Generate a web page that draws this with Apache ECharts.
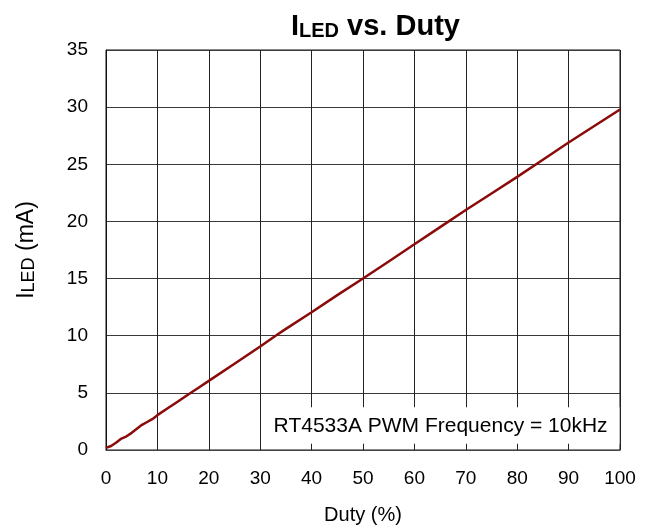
<!DOCTYPE html>
<html>
<head>
<meta charset="utf-8">
<script src="https://cdn.jsdelivr.net/npm/echarts@6/dist/echarts.min.js"></script>
<style>
html,body{margin:0;padding:0;background:#fff;}
#c{width:655px;height:531px;}
</style>
</head>
<body>
<div id="c"></div>
<script>
// Data
const duty = [0,1,2,3,4,5,6,7,8,9,10,12,14,16,18,20,25,30,33,35,40,45,50,55,60,65,70,75,80,85,90,95,100];
const iled = [0.2,0.35,0.65,1.0,1.2,1.5,1.85,2.2,2.45,2.7,3.05,3.65,4.25,4.85,5.45,6.05,7.55,9.05,10.0,10.6,12.05,13.55,15.0,16.5,18.0,19.5,21.0,22.45,23.9,25.4,26.9,28.35,29.8];
const xTicks = {min:0, max:100, interval:10};
const yTicks = {min:0, max:35, interval:5};
const noteText = 'RT4533A PWM Frequency = 10kHz';

const FONT = '"Liberation Sans", Arial, sans-serif';
const chart = echarts.init(document.getElementById('c'), null, {renderer:'canvas'});

const lineData = duty.map((d,i)=>[d, iled[i]]);

const option = {
  animation:false,
  backgroundColor:'#fff',
  title:{
    text:'{m|I}{s|LED}{m| vs. Duty}',
    left:286, top:3,
    textStyle:{
      rich:{
        m:{fontSize:29, fontWeight:'bold', fontFamily:FONT, color:'#000', lineHeight:33, verticalAlign:'bottom'},
        s:{fontSize:20, fontWeight:'bold', fontFamily:FONT, color:'#000', lineHeight:33, verticalAlign:'bottom', padding:[8,0,0,0]}
      }
    }
  },
  grid:{left:106, right:35, top:50, bottom:81, show:true, borderColor:'#111', borderWidth:1},
  xAxis:[{
    type:'value', min:xTicks.min, max:xTicks.max, interval:xTicks.interval,
    position:'bottom',
    axisLine:{show:true, lineStyle:{color:'#444', width:1}},
    axisTick:{show:false},
    axisLabel:{fontSize:19, fontFamily:FONT, color:'#000', margin:19},
    splitLine:{show:true, lineStyle:{color:'#222', width:1}},
    name:'Duty (%)', nameLocation:'middle', nameGap:55,
    nameTextStyle:{fontSize:20, fontFamily:FONT, color:'#000'}
  }],
  yAxis:[{
    type:'value', min:yTicks.min, max:yTicks.max, interval:yTicks.interval,
    axisLine:{show:true, lineStyle:{color:'#111'}},
    axisTick:{show:false},
    axisLabel:{fontSize:19, fontFamily:FONT, color:'#000', margin:18},
    splitLine:{show:true, lineStyle:{color:'#3a3a3a', width:1}},
    name:'{m|I}{s|LED}{m| (mA)}', nameLocation:'middle', nameGap:68, nameRotate:90,
    nameTextStyle:{
      rich:{
        m:{fontSize:23, fontFamily:FONT, color:'#000', lineHeight:27, verticalAlign:'bottom'},
        s:{fontSize:18, fontFamily:FONT, color:'#000', lineHeight:27, verticalAlign:'bottom', padding:[5,0,0,0]}
      }
    }
  }],
  series:[{
    type:'line', data:lineData,
    showSymbol:false, symbol:'none', z:20,
    lineStyle:{color:'#8b0a0a', width:2.5}
  }]
};
chart.setOption(option);

// White annotation box anchored in data coordinates; it stops a few pixels above
// the x axis so the grid lines show through as short inside ticks.
const p0 = chart.convertToPixel({xAxisIndex:0, yAxisIndex:0}, [30.3, 3.75]);
const p1 = chart.convertToPixel({xAxisIndex:0, yAxisIndex:0}, [99.9, 0.55]);
chart.setOption({
  graphic:[{
    type:'rect', z:5,
    shape:{x:p0[0], y:p0[1], width:p1[0]-p0[0], height:p1[1]-p0[1]},
    style:{fill:'#fff'}
  },{
    type:'text', z:6,
    x:(p0[0]+p1[0])/2, y:(p0[1]+p1[1])/2 + 1,
    style:{text:noteText, fontSize:21, fontFamily:FONT, fill:'#000', align:'center', verticalAlign:'middle'}
  }]
});
</script>
</body>
</html>
